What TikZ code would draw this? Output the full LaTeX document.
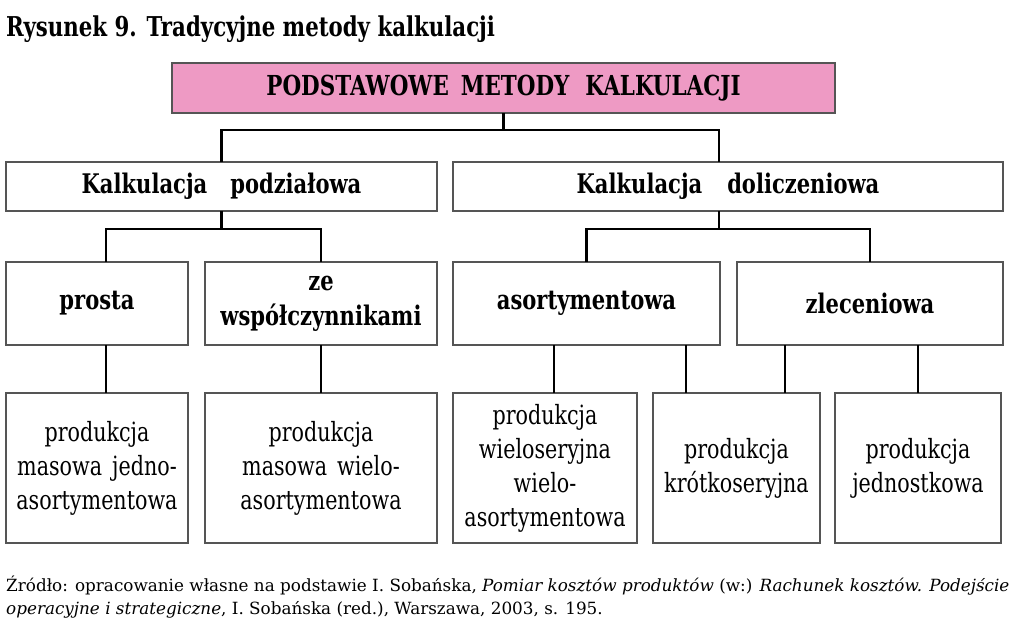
\documentclass[tikz,border=0pt]{standalone}
\usepackage{fontspec}
\setmainfont{DejaVu Serif}[FakeStretch=0.78]
\newfontfamily\srcfont{DejaVu Serif}
\definecolor{pinkfill}{RGB}{238,154,196}
\definecolor{boxline}{RGB}{85,85,85}
\tikzset{
  boxstyle/.style={draw=boxline, line width=1.8pt, fill=white, inner sep=0pt, align=center, anchor=center},
  headbox/.style={boxstyle, fill=pinkfill},
  conn/.style={draw=black, line width=2.6pt, line cap=rect},
  bold/.style={font=\fontsize{27}{35}\selectfont\bfseries},
  plain/.style={font=\fontsize{26.5}{34}\selectfont},
}
\begin{document}
\begin{tikzpicture}[x=1pt,y=-1pt]
\useasboundingbox (0,0) rectangle (1024,639);
% title
\node[anchor=base west, inner sep=0pt, font=\fontsize{27.3}{30}\selectfont\bfseries] (title) at (6,37) {Rysunek 9. Tradycyjne metody kalkulacji};
% boxes
\node[headbox, font=\fontsize{27.5}{35}\selectfont\bfseries, minimum width=663pt, minimum height=50pt] (top) at (503.5,88) {PODSTAWOWE\hspace{12pt}METODY\hspace{16pt}KALKULACJI};
\node[boxstyle, bold, minimum width=431pt, minimum height=49pt] (k1) at (221.5,186.5) {Kalkulacja\hspace{23pt}podziałowa};
\node[boxstyle, bold, minimum width=550pt, minimum height=49pt] (k2) at (728,186.5) {Kalkulacja\hspace{25pt}doliczeniowa};
\node[boxstyle, bold, minimum width=182pt, minimum height=83pt] (p) at (97,303.5) {prosta};
\node[boxstyle, bold, minimum width=232pt, minimum height=83pt] (z) at (321,303.5) {ze\\współczynnikami};
\node[boxstyle, bold, minimum width=267pt, minimum height=83pt] (a) at (586.5,303.5) {asortymentowa};
\node[boxstyle, bold, minimum width=266pt, minimum height=83pt] (l) at (870,303.5) {zleceniowa};
\node[boxstyle, plain, minimum width=182pt, minimum height=150pt] (q1) at (97,468) {produkcja\\masowa\hspace{10pt}jedno-\\asortymentowa};
\node[boxstyle, plain, minimum width=232pt, minimum height=150pt] (q2) at (321,468) {produkcja\\masowa\hspace{10pt}wielo-\\asortymentowa};
\node[boxstyle, plain, minimum width=184pt, minimum height=150pt] (q3) at (545,468) {produkcja\\wieloseryjna\\wielo-\\asortymentowa};
\node[boxstyle, plain, minimum width=167pt, minimum height=150pt] (q4) at (736.5,468) {produkcja\\krótkoseryjna};
\node[boxstyle, plain, minimum width=166pt, minimum height=150pt] (q5) at (918,468) {produkcja\\jednostkowa};
% junction coordinates
\coordinate (b1L) at (221.5,130);
\coordinate (b1R) at (719,130);
\coordinate (b2L) at (106,229);
\coordinate (b2R) at (321,229);
\coordinate (b3L) at (586.5,229);
\coordinate (b3R) at (870,229);
\coordinate (v1) at (106,0);
\coordinate (v2) at (321,0);
\coordinate (v3) at (554,0);
\coordinate (v4) at (686,0);
\coordinate (v5) at (785,0);
\coordinate (v6) at (918,0);
% connectors
\draw[conn] (top.south) -- (top.south |- b1L);
\draw[conn] (k1.north) |- (b1R) -- (b1R |- k2.north);
\draw[conn] (k1.south) -- (k1.south |- b2L);
\draw[conn] (b2L |- p.north) -- (b2L) -- (b2R) -- (b2R |- z.north);
\draw[conn] (b1R |- k2.south) -- (b1R |- b3L);
\draw[conn] (a.north) |- (b3R) -- (l.north);
\draw[conn] (v1 |- p.south) -- (v1 |- q1.north);
\draw[conn] (v2 |- z.south) -- (v2 |- q2.north);
\draw[conn] (v3 |- a.south) -- (v3 |- q3.north);
\draw[conn] (v4 |- a.south) -- (v4 |- q4.north);
\draw[conn] (v5 |- l.south) -- (v5 |- q4.north);
\draw[conn] (v6 |- l.south) -- (v6 |- q5.north);
% source
\node[anchor=base west, inner sep=0pt, align=left, font=\srcfont\fontsize{16.8}{23}\selectfont] (src) at (6,614) {Źródło: opracowanie własne na podstawie I. Sobańska, \textit{Pomiar kosztów produktów} (w:) \textit{Rachunek kosztów. Podejście}\\\textit{operacyjne i strategiczne}, I. Sobańska (red.), Warszawa, 2003, s. 195.};
\end{tikzpicture}
\end{document}
